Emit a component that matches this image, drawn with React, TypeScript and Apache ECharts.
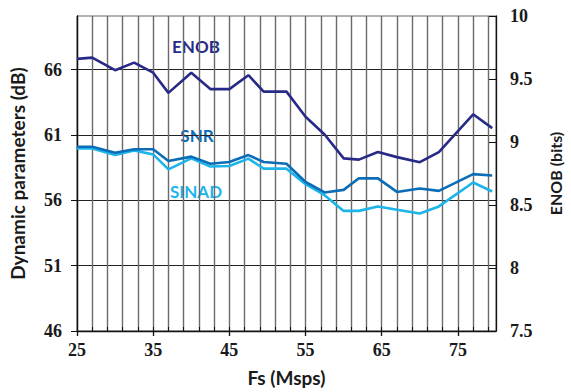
import React, { useEffect, useRef } from "react";
import * as echarts from "echarts";

const fsMsps = [25, 27, 30, 32.5, 35, 37, 40, 42.5, 45, 47.5, 49.5, 52.5, 55, 57.5, 60, 62, 64.5, 67, 70, 72.5, 77, 79.5];
const enobBits = [9.66, 9.67, 9.57, 9.63, 9.55, 9.39, 9.55, 9.42, 9.42, 9.53, 9.4, 9.4, 9.2, 9.06, 8.87, 8.86, 8.92, 8.88, 8.84, 8.92, 9.22, 9.11];
const snrDb = [60.1, 60.1, 59.64, 59.9, 59.9, 59.0, 59.34, 58.8, 58.93, 59.46, 58.93, 58.8, 57.4, 56.6, 56.8, 57.68, 57.68, 56.64, 56.9, 56.72, 58.0, 57.9];
const sinadDb = [59.97, 59.97, 59.46, 59.82, 59.51, 58.37, 59.21, 58.58, 58.62, 59.19, 58.42, 58.42, 57.23, 56.39, 55.19, 55.19, 55.53, 55.27, 54.99, 55.53, 57.36, 56.67];

const xTickLabels = [25, 35, 45, 55, 65, 75];
const xGridValues = [25, 27, 29, 31, 33, 35, 37, 39, 41, 43, 45, 47, 49, 51, 53, 55, 57, 59, 61, 63, 65, 67, 69, 71, 73, 75, 77, 79];
const dbTicks = [46, 51, 56, 61, 66];

const pair = (ys: number[]) => fsMsps.map((x, i) => [x, ys[i]]);

export default function App() {
  const ref = useRef<HTMLDivElement>(null);
  useEffect(() => {
    document.body.style.margin = "0";
    const chart = echarts.init(ref.current!, null, { renderer: "svg" });
    const tickFont = { fontFamily: "Liberation Serif", fontWeight: "bold" as const, fontSize: 18, color: "#1a1a1a" };
    const titleFont = { fontFamily: "Lato", fontWeight: "bold" as const, color: "#1a1a1a" };
    chart.setOption({
      animation: false,
      backgroundColor: "#fff",
      grid: { left: 77, right: 63, top: 16, bottom: 60, show: true, borderColor: "#666", borderWidth: 1, backgroundColor: "transparent" },
      xAxis: [
        {
          type: "value", min: 25, max: 80,
          axisLine: { show: true, lineStyle: { color: "#111", width: 1.3 } },
          axisTick: { show: true, inside: true, length: 4, customValues: xGridValues, lineStyle: { color: "#111" } },
          axisLabel: { show: false },
          splitLine: { show: true, lineStyle: { color: "#6a6a6a", width: 1.4 } },
          name: "Fs (Msps)", nameLocation: "middle", nameGap: 37,
          nameTextStyle: { ...titleFont, fontSize: 19 },
        },
        {
          type: "value", min: 25, max: 80, position: "bottom",
          axisLine: { show: false },
          axisTick: { show: true, length: 5, customValues: xTickLabels, lineStyle: { color: "#111", width: 1.3 } },
          axisLabel: { show: true, customValues: xTickLabels, margin: 10, ...tickFont },
          splitLine: { show: false },
        },
      ],
      yAxis: [
        {
          type: "value", min: 46, max: 70.1, position: "left",
          axisLine: { show: true, lineStyle: { color: "#111", width: 1.3 } },
          axisTick: { show: true, length: 6, customValues: dbTicks, lineStyle: { color: "#111" } },
          axisLabel: { customValues: dbTicks, margin: 15, ...tickFont },
          splitLine: { show: true, lineStyle: { color: "#222", width: 1.2 } },
          name: "Dynamic parameters (dB)", nameLocation: "middle", nameRotate: 90, nameGap: 50,
          nameTextStyle: { ...titleFont, fontSize: 19 },
        },
        {
          type: "value", min: 7.5, max: 10, interval: 0.5, position: "right",
          axisLine: { show: true, lineStyle: { color: "#111", width: 1.3 } },
          axisTick: { show: true, inside: true, length: 7, lineStyle: { color: "#111" } },
          axisLabel: { margin: 14, ...tickFont, formatter: (v: number) => String(v) },
          splitLine: { show: false },
          name: "ENOB (bits)", nameLocation: "middle", nameRotate: 90, nameGap: 51,
          nameTextStyle: { ...titleFont, fontSize: 16 },
        },
      ],
      series: [
        { name: "SINAD", type: "line", xAxisIndex: 0, yAxisIndex: 0, data: pair(sinadDb), symbol: "none", lineStyle: { color: "#1db4ea", width: 2.6 } },
        { name: "SNR", type: "line", xAxisIndex: 0, yAxisIndex: 0, data: pair(snrDb), symbol: "none", lineStyle: { color: "#0b6db7", width: 2.6 } },
        { name: "ENOB", type: "line", xAxisIndex: 0, yAxisIndex: 1, data: pair(enobBits), symbol: "none", lineStyle: { color: "#272a86", width: 2.6 } },
      ],
      graphic: [
        { type: "text", x: 196, y: 46, style: { text: "ENOB", fill: "#272a86", font: "bold 17px Lato", align: "center", verticalAlign: "middle" } },
        { type: "text", x: 197, y: 135, style: { text: "SNR", fill: "#0b6db7", font: "bold 17px Lato", align: "center", verticalAlign: "middle" } },
        { type: "text", x: 196, y: 191, style: { text: "SINAD", fill: "#1db4ea", font: "bold 17px Lato", align: "center", verticalAlign: "middle" } },
      ],
    });
    return () => chart.dispose();
  }, []);
  return <div ref={ref} style={{ width: 571, height: 392 }} />;
}
